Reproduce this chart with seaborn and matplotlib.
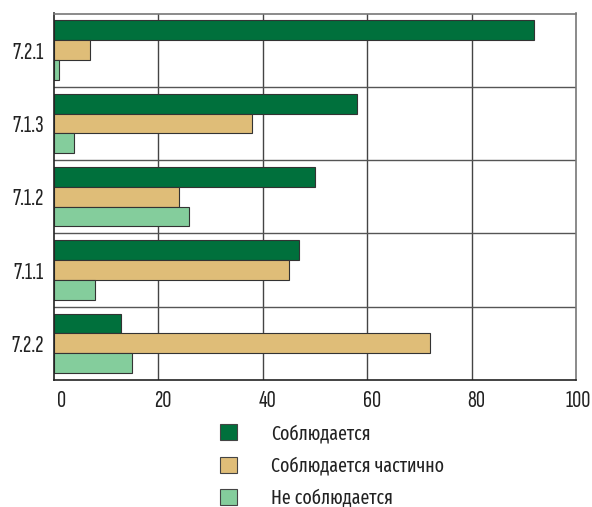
import matplotlib
matplotlib.use("Agg")
import matplotlib.pyplot as plt
import matplotlib.transforms as mtransforms
import seaborn as sns
import pandas as pd
from matplotlib.patches import Patch
from matplotlib.font_manager import FontProperties

categories = ["7.2.1", "7.1.3", "7.1.2", "7.1.1", "7.2.2"]
series_names = ["Соблюдается", "Соблюдается частично", "Не соблюдается"]
complied = [92, 58, 50, 47, 13]
partial = [7, 38, 24, 45, 72]
not_complied = [1, 4, 26, 8, 15]
xticks = [0, 20, 40, 60, 80, 100]
colors = ["#00703C", "#DFBD78", "#84CD9C"]

rows = []
for vals, name in zip([complied, partial, not_complied], series_names):
    for c, v in zip(categories, vals):
        rows.append({"cat": c, "series": name, "value": v})
df = pd.DataFrame(rows)

sns.set_theme(style="white")
plt.rcParams['font.family'] = ['Sofia Sans Extra Condensed', 'Fira Sans Extra Condensed', 'DejaVu Sans']
plt.rcParams['font.weight'] = 'light'

fig = plt.figure(figsize=(5.92, 5.07), dpi=100)
ax = fig.add_axes([53.5/592, 1-380/507, (576-53.5)/592, (380-13.5)/507])

sns.barplot(data=df, y="cat", x="value", hue="series", order=categories,
            hue_order=series_names, palette=colors, orient="h",
            width=0.81, edgecolor="#333333", linewidth=0.8, ax=ax, legend=False,
            errorbar=None, saturation=1)

ax.set_xlim(0, 100)
ax.set_ylim(len(categories) - 0.5, -0.5)
ax.set_xticks(xticks)
ax.set_xticklabels([str(t) for t in xticks], fontsize=18, color="#222222")
ax.set_yticks(range(len(categories)))
ax.set_yticklabels(categories, fontsize=18, color="#222222")
ax.set_xlabel("")
ax.set_ylabel("")
ax.tick_params(axis="both", length=0)
ax.tick_params(axis="y", pad=7)
ax.tick_params(axis="x", pad=7)

offsets = [8, 5, 5, 5, 5, 2]
for lab, dx in zip(ax.get_xticklabels(), offsets):
    lab.set_transform(lab.get_transform() + mtransforms.ScaledTranslation(dx/100, 0, fig.dpi_scale_trans))

for x in xticks[1:-1]:
    ax.axvline(x, color="#444444", lw=1.0, zorder=0)
for y in [0.5, 1.5, 2.5, 3.5]:
    ax.axhline(y, color="#555555", lw=1.0, zorder=0)

for side in ["top", "right"]:
    ax.spines[side].set_color("#777777")
    ax.spines[side].set_linewidth(1.2)
for side in ["left", "bottom"]:
    ax.spines[side].set_color("#222222")
    ax.spines[side].set_linewidth(1.2)
    ax.spines[side].set_visible(True)

legend_font = FontProperties(family=['Fira Sans Extra Condensed', 'DejaVu Sans'], weight='normal', size=14)
handles = [Patch(facecolor=c, edgecolor="#444444", lw=0.8) for c in colors]
fig.legend(handles, series_names, loc="upper left", bbox_to_anchor=(204/592, 1-408/507),
           frameon=False, prop=legend_font, handlelength=0.88, handleheight=0.88,
           handletextpad=1.75, labelspacing=0.65, borderpad=0.3, labelcolor="#222222")

fig.savefig("out.png", dpi=100)
